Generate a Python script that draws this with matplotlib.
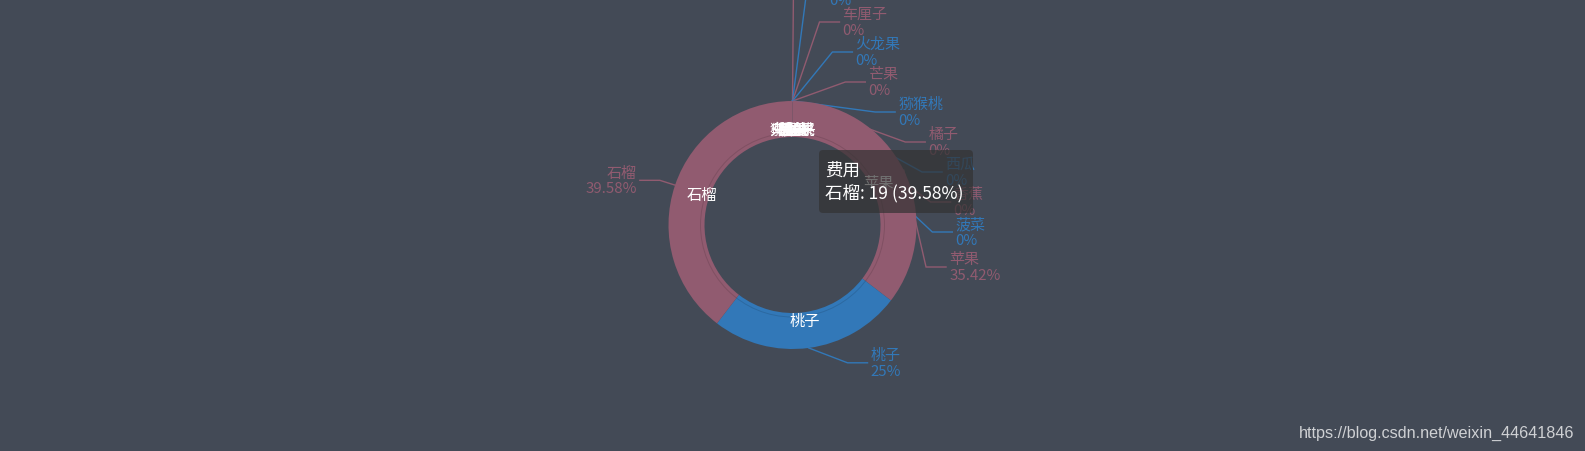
import numpy as np
import matplotlib.pyplot as plt
from matplotlib.patches import Circle, FancyBboxPatch

plt.rcParams['font.family'] = ['Noto Sans CJK SC', 'DejaVu Sans']

# data (clockwise from the top, as the pie draws them)
series_name = '费用'
names = ['葡萄', '梨', '车厘子', '火龙果', '芒果', '猕猴桃', '橘子', '西瓜', '香蕉', '菠菜',
         '苹果', '桃子', '石榴']
values = [0, 0, 0, 0, 0, 0, 0, 0, 0, 0, 17, 12, 19]
hover_name = '石榴'
watermark = 'https://blog.csdn.net/weixin_44641846'

bg = '#434a56'
palette = ['#915b70', '#3278b8']

W, H = 1585, 452
fig = plt.figure(figsize=(W / 100, H / 100), dpi=100)
fig.patch.set_facecolor(bg)
ax = fig.add_axes([0, 0, 1, 1])

cx, cy = W / 2, H / 2
r_out, r_in = 124, 88
colors = [palette[i % 2] for i in range(len(names))]
total = sum(values)
pcts = [v / total * 100 for v in values]

wedges, _ = ax.pie(values, colors=colors, startangle=90, counterclock=False,
                   radius=r_out, center=(cx, cy), frame=True,
                   wedgeprops=dict(width=r_out - r_in, linewidth=0))
for w in wedges:
    w.set_zorder(3)
ax.add_patch(Circle((cx, cy), 92, fill=False, ec=(0, 0, 0, 0.12), lw=0.7, zorder=4))

ax.set_xlim(0, W)
ax.set_ylim(0, H)
ax.set_aspect('equal')
ax.axis('off')


def fmt(p):
    return ('%.2f' % p).rstrip('0').rstrip('.')


def elbow_dx(dy):
    # where the bent label line turns, following echarts' label spread
    return max(np.sqrt(max(140 ** 2 - dy ** 2, 0)), 27 + 0.43 * (203 - abs(dy)))


cum = np.cumsum(values)
mids = np.radians((cum - np.array(values) / 2) / total * 360)

n_zero = sum(1 for v in values if v == 0)
zk = 0
for i, (name, v, p, c, a) in enumerate(zip(names, values, pcts, colors, mids)):
    sx, sy = cx + r_out * np.sin(a), cy + r_out * np.cos(a)
    if v == 0:
        ly = cy - 7 + 30 * (n_zero - 1 - zk)
        zk += 1
    elif name == '苹果':
        ly = cy - 42
    else:
        ly = cy + (r_out + 15) * np.cos(a)
    right = np.sin(a) >= 0
    sgn = 1 if right else -1
    ex = cx + sgn * elbow_dx(ly - cy)
    ax.plot([sx, ex, ex + sgn * 20], [sy, ly, ly], color=c, lw=1, zorder=2,
            solid_joinstyle='miter')
    ax.text(ex + sgn * 23, ly, name + '\n' + fmt(p) + '%', color=c, fontsize=10.8,
            ha='left' if right else 'right', va='center', linespacing=1.15, zorder=2)
    # inside label
    ax.text(cx + 96 * np.sin(a), cy + 96 * np.cos(a), name, color='white',
            fontsize=11, ha='center', va='center', zorder=5)

# tooltip for the hovered slice
hi = names.index(hover_name)
tx0, ty0, tw, th = 819, H - 214, 154, 63
ax.add_patch(FancyBboxPatch((tx0, ty0), tw, th, boxstyle='round,pad=0,rounding_size=4',
                            fc=(0.2, 0.2, 0.2, 0.7), ec='none', zorder=10))
ax.text(tx0 + 6, ty0 + th / 2,
        '%s\n%s: %d (%s%%)' % (series_name, hover_name, values[hi], fmt(pcts[hi])),
        color='white', fontsize=12.6, ha='left', va='center', linespacing=1.3, zorder=11)

ax.text(W - 11, 19, watermark, color='#cfd1d4', fontsize=11.6,
        family=['Liberation Sans', 'DejaVu Sans'], ha='right', va='center', zorder=12)

fig.savefig('out.png', dpi=100, facecolor=bg)
